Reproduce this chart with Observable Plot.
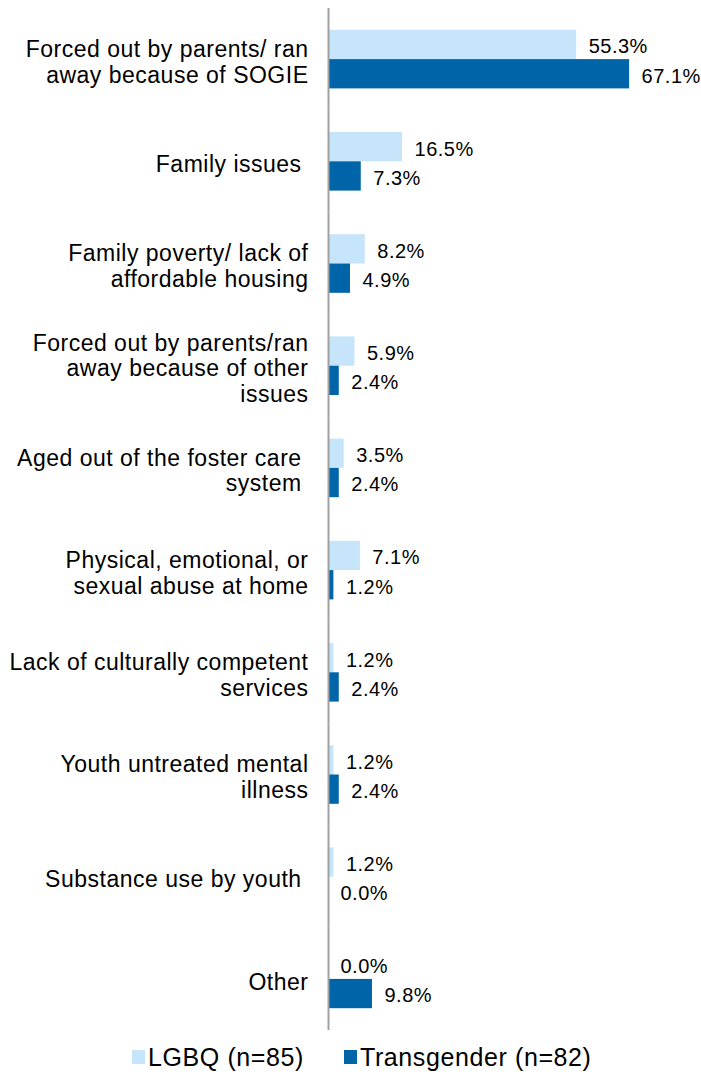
<!DOCTYPE html>
<html>
<head>
<meta charset="utf-8">
<script src="https://cdn.jsdelivr.net/npm/d3@7"></script>
<script src="https://cdn.jsdelivr.net/npm/@observablehq/plot@0.6"></script>
<style>
  body { margin: 0; background: #fff; font-family: "Liberation Sans", Arial, Helvetica, sans-serif; }
  #chart svg { display: block; overflow: visible; }
  .legend { display: flex; align-items: center; padding-left: 132px; margin-top: 2px; line-height: 30px; font-size: 25px; letter-spacing: 0.6px; color: #000; }
  .legend .item { display: flex; align-items: center; }
  .legend .sw { width: 13px; height: 14px; margin-right: 3px; }
</style>
</head>
<body>
<div id="chart"></div>
<script>
const categories = [
  "Forced out by parents/ ran\naway because of SOGIE",
  "Family issues\u00a0",
  "Family poverty/ lack of\naffordable housing",
  "Forced out by parents/ran\naway because of other\nissues",
  "Aged out of the foster care\u00a0\nsystem\u00a0",
  "Physical, emotional, or\nsexual abuse at home",
  "Lack of culturally competent\nservices",
  "Youth untreated mental\nillness",
  "Substance use by youth\u00a0",
  "Other"
];
const seriesNames = ["LGBQ (n=85)", "Transgender (n=82)"];
const lgbq = [55.3, 16.5, 8.2, 5.9, 3.5, 7.1, 1.2, 1.2, 1.2, 0.0];
const transgender = [67.1, 7.3, 4.9, 2.4, 2.4, 1.2, 2.4, 2.4, 0.0, 9.8];
const colors = ["#c6e4fa", "#0065a8"];

const rows = [];
categories.forEach((c, i) => {
  rows.push({category: c, series: seriesNames[0], value: lgbq[i]});
  rows.push({category: c, series: seriesNames[1], value: transgender[i]});
});

const chart = Plot.plot({
  width: 701,
  height: 1040,
  marginLeft: 328,
  marginRight: 14,
  marginTop: 8,
  marginBottom: 10,
  style: {fontFamily: '"Liberation Sans", Arial, Helvetica, sans-serif', color: "#000", background: "#fff", letterSpacing: "0.5px"},
  x: {domain: [0, 80], axis: null},
  y: {domain: seriesNames, paddingInner: 0, paddingOuter: 0.744, round: false, axis: null},
  fy: {domain: categories, padding: 0, round: false, axis: null},
  color: {domain: seriesNames, range: colors},
  marks: [
    Plot.barX(rows, {x: "value", y: "series", fy: "category", fill: "series"}),
    Plot.text(rows, {
      x: "value", y: "series", fy: "category",
      text: d => d.value.toFixed(1) + "%",
      textAnchor: "start", dx: 12, dy: 2, fontSize: 20, fill: "#000"
    }),
    Plot.text(categories, {
      fy: d => d, text: d => d, frameAnchor: "left",
      textAnchor: "end", dx: -20, dy: 2, fontSize: 23, lineHeight: 1.11, fill: "#000"
    }),
    Plot.ruleX([0], {stroke: "#a0a0a0", strokeWidth: 2})
  ]
});
document.getElementById("chart").appendChild(chart);

const legend = document.createElement("div");
legend.className = "legend";
seriesNames.forEach((s, i) => {
  const item = document.createElement("div");
  item.className = "item";
  if (i > 0) item.style.marginLeft = "40px";
  const sw = document.createElement("span");
  sw.className = "sw";
  sw.style.background = colors[i];
  const label = document.createElement("span");
  label.textContent = s;
  item.appendChild(sw);
  item.appendChild(label);
  legend.appendChild(item);
});
document.body.appendChild(legend);
</script>
</body>
</html>
